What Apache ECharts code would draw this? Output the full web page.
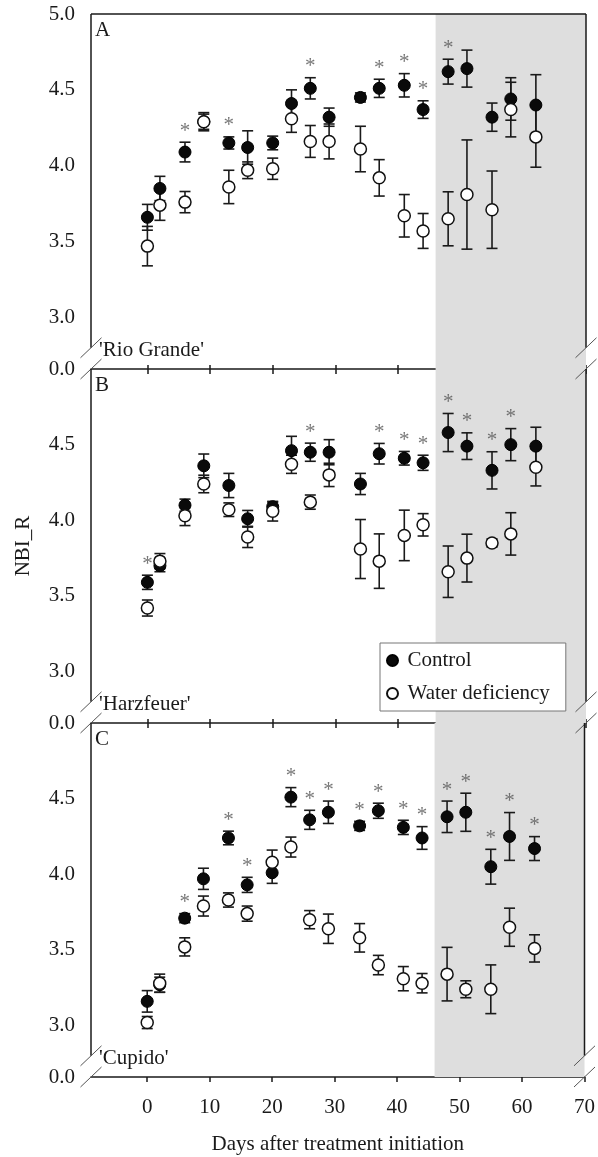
<!DOCTYPE html>
<html><head><meta charset="utf-8">
<script src="https://cdn.jsdelivr.net/npm/echarts@6/dist/echarts.min.js"></script>
<style>html,body{margin:0;padding:0;background:#fff}#c{width:598px;height:1157px}</style>
</head><body><div id="c"></div>
<script>
// ---- data ----
const days = [0, 2, 6, 9, 13, 16, 20, 23, 26, 29, 34, 37, 41, 44, 48, 51, 55, 58, 62];
const xTicks = [0, 10, 20, 30, 40, 50, 60, 70];
const yTicksTop = [3.0, 3.5, 4.0, 4.5, 5.0];
const yTicksLower = [3.0, 3.5, 4.0, 4.5];
const panelLetters = ['A', 'B', 'C'];
const cultivars = ["'Rio Grande'", "'Harzfeuer'", "'Cupido'"];
const deficitStart = 46;

const ctrlA = [3.66, 3.85, 4.09, 4.29, 4.15, 4.12, 4.15, 4.41, 4.51, 4.32, 4.45, 4.51, 4.53, 4.37, 4.62, 4.64, 4.32, 4.44, 4.40];
const ctrlErrA = [0.085, 0.08, 0.065, 0.05, 0.04, 0.11, 0.045, 0.09, 0.07, 0.06, 0.03, 0.06, 0.077, 0.058, 0.082, 0.122, 0.093, 0.14, 0.2];
const waterA = [3.47, 3.74, 3.76, 4.29, 3.86, 3.97, 3.98, 4.31, 4.16, 4.16, 4.11, 3.92, 3.67, 3.57, 3.65, 3.81, 3.71, 4.37, 4.19];
const waterErrA = [0.13, 0.1, 0.07, 0.06, 0.11, 0.055, 0.07, 0.09, 0.105, 0.115, 0.15, 0.12, 0.14, 0.115, 0.178, 0.36, 0.255, 0.18, 0.2];
const sigA = [6, 13, 26, 37, 41, 44, 48];

const ctrlB = [3.59, 3.70, 4.10, 4.36, 4.23, 4.01, 4.09, 4.46, 4.45, 4.45, 4.24, 4.44, 4.41, 4.38, 4.58, 4.49, 4.33, 4.50, 4.49];
const ctrlErrB = [0.047, 0.04, 0.04, 0.078, 0.08, 0.055, 0.03, 0.095, 0.06, 0.083, 0.07, 0.068, 0.045, 0.05, 0.126, 0.088, 0.123, 0.106, 0.125];
const waterB = [3.42, 3.73, 4.03, 4.24, 4.07, 3.89, 4.06, 4.37, 4.12, 4.30, 3.81, 3.73, 3.90, 3.97, 3.66, 3.75, 3.85, 3.91, 4.35];
const waterErrB = [0.053, 0.05, 0.065, 0.058, 0.045, 0.07, 0.065, 0.06, 0.047, 0.077, 0.195, 0.18, 0.167, 0.074, 0.17, 0.158, 0.027, 0.14, 0.123];
const sigB = [0, 26, 37, 41, 44, 48, 51, 55, 58];

const ctrlC = [3.16, 3.27, 3.71, 3.97, 4.24, 3.93, 4.01, 4.51, 4.36, 4.41, 4.32, 4.42, 4.31, 4.24, 4.38, 4.41, 4.05, 4.25, 4.17];
const ctrlErrC = [0.071, 0.05, 0.03, 0.07, 0.045, 0.05, 0.07, 0.063, 0.063, 0.074, 0.03, 0.05, 0.047, 0.075, 0.104, 0.126, 0.115, 0.158, 0.079];
const waterC = [3.02, 3.28, 3.52, 3.79, 3.83, 3.74, 4.08, 4.18, 3.70, 3.64, 3.58, 3.40, 3.31, 3.28, 3.34, 3.24, 3.24, 3.65, 3.51];
const waterErrC = [0.04, 0.06, 0.06, 0.066, 0.047, 0.05, 0.08, 0.066, 0.06, 0.097, 0.094, 0.064, 0.08, 0.064, 0.177, 0.056, 0.161, 0.126, 0.09];
const sigC = [6, 13, 16, 23, 26, 29, 34, 37, 41, 44, 48, 51, 55, 58, 62];

const panels = [
  {ctrl: ctrlA, ctrlErr: ctrlErrA, water: waterA, waterErr: waterErrA, sig: sigA},
  {ctrl: ctrlB, ctrlErr: ctrlErrB, water: waterB, waterErr: waterErrB, sig: sigB},
  {ctrl: ctrlC, ctrlErr: ctrlErrC, water: waterC, waterErr: waterErrC, sig: sigC}
];

// ---- layout / style ----
const FONT = 'Liberation Serif';
const INK = '#1a1a1a';
const X_MIN = -9, X_MAX = 70;
const Y_MIN = 2.66, Y_MAX = 5.0, BREAK_AT = 2.8;
const tops = [14, 369, 723];
const heights = [355, 354, 354];

const chart = echarts.init(document.getElementById('c'), null, {renderer: 'canvas'});

const grids = [], xAxes = [], yAxes = [], series = [];

function errRender(params, api) {
  const x = api.value(0);
  const lo = api.coord([x, api.value(1)]);
  const hi = api.coord([x, api.value(2)]);
  const cap = 5.5;
  const st = {stroke: INK, lineWidth: 1.6};
  return {type: 'group', children: [
    {type: 'line', shape: {x1: lo[0], y1: lo[1], x2: hi[0], y2: hi[1]}, style: st},
    {type: 'line', shape: {x1: hi[0] - cap, y1: hi[1], x2: hi[0] + cap, y2: hi[1]}, style: st},
    {type: 'line', shape: {x1: lo[0] - cap, y1: lo[1], x2: lo[0] + cap, y2: lo[1]}, style: st}
  ]};
}

panels.forEach((P, p) => {
  grids.push({left: 91, right: 12, top: tops[p], height: heights[p]});
  const last = p === 2;
  xAxes.push({
    gridIndex: p, type: 'value', min: X_MIN, max: X_MAX,
    axisLine: {show: true, lineStyle: {color: INK, width: 1.5}},
    axisTick: {show: true, customValues: xTicks, length: 5, inside: false, lineStyle: {color: INK, width: 1.5}},
    axisLabel: {show: last, customValues: xTicks, fontSize: 21, fontFamily: FONT, color: INK, margin: 20},
    splitLine: {show: false},
    name: last ? 'Days after treatment initiation' : '',
    nameLocation: 'middle', nameGap: 57,
    nameTextStyle: {fontSize: 21, fontFamily: FONT, color: INK}
  });
  yAxes.push({
    gridIndex: p, type: 'value', min: Y_MIN, max: Y_MAX,
    axisLine: {show: false}, axisTick: {show: false}, splitLine: {show: false},
    axisLabel: {
      customValues: [Y_MIN].concat(p === 0 ? yTicksTop : yTicksLower),
      fontSize: 21, fontFamily: FONT, color: INK, margin: 16,
      formatter: v => (v < BREAK_AT ? '0.0' : v.toFixed(1))
    },
    name: p === 1 ? 'NBI_R' : '', nameLocation: 'middle', nameGap: 57, nameRotate: 90,
    nameTextStyle: {fontSize: 21, fontFamily: FONT, color: INK}
  });
  // shaded water-deficit period
  series.push({
    type: 'line', xAxisIndex: p, yAxisIndex: p, data: [], z: -1, silent: true,
    markArea: {silent: true, itemStyle: {color: '#dedede'}, data: [[{xAxis: deficitStart}, {xAxis: X_MAX}]]}
  });
  series.push({
    type: 'custom', xAxisIndex: p, yAxisIndex: p, z: 3, silent: true, renderItem: errRender,
    data: days.map((d, i) => [d, P.ctrl[i] - P.ctrlErr[i], P.ctrl[i] + P.ctrlErr[i]])
  });
  series.push({
    type: 'custom', xAxisIndex: p, yAxisIndex: p, z: 3, silent: true, renderItem: errRender,
    data: days.map((d, i) => [d, P.water[i] - P.waterErr[i], P.water[i] + P.waterErr[i]])
  });
  series.push({
    name: 'Control', type: 'scatter', xAxisIndex: p, yAxisIndex: p, z: 4,
    symbol: 'circle', symbolSize: 12,
    itemStyle: {color: '#0a0a0a', borderColor: '#000', borderWidth: 1, opacity: 1},
    data: days.map((d, i) => [d, P.ctrl[i]])
  });
  series.push({
    name: 'Water deficiency', type: 'scatter', xAxisIndex: p, yAxisIndex: p, z: 5,
    symbol: 'circle', symbolSize: 12,
    itemStyle: {color: '#ffffff', borderColor: '#111', borderWidth: 1.5, opacity: 1},
    data: days.map((d, i) => [d, P.water[i]])
  });
  series.push({
    type: 'scatter', xAxisIndex: p, yAxisIndex: p, z: 6, silent: true,
    symbol: 'circle', symbolSize: 1, itemStyle: {color: 'rgba(0,0,0,0)'},
    label: {show: true, formatter: '*', position: 'inside', offset: [0, -11],
      fontSize: 21, fontFamily: FONT, color: '#555'},
    data: P.sig.map(d => { const i = days.indexOf(d); return [d, P.ctrl[i] + P.ctrlErr[i]]; })
  });
});

// inner tick halves for panels A, B (ticks cross the shared border)
[0, 1].forEach(p => {
  xAxes.push({
    gridIndex: p, type: 'value', min: X_MIN, max: X_MAX, position: 'bottom',
    axisLine: {show: false}, axisLabel: {show: false}, splitLine: {show: false},
    axisTick: {show: true, customValues: xTicks, length: 4, inside: true, lineStyle: {color: INK, width: 1.5}}
  });
});

chart.setOption({
  animation: false,
  backgroundColor: '#fff',
  grid: grids, xAxis: xAxes, yAxis: yAxes, series: series,
  legend: {
    data: ['Control', 'Water deficiency'], orient: 'vertical',
    left: 380, top: 643, padding: [7, 16, 7, 6], itemGap: 12,
    itemWidth: 20, itemHeight: 11, selectedMode: false,
    backgroundColor: '#fff', borderColor: '#777', borderWidth: 1,
    textStyle: {fontSize: 21, fontFamily: FONT, color: INK}
  }
});

// frame pieces, axis-break marks and panel annotations
const g = [];
const lineSt = {stroke: INK, lineWidth: 1.5};
const slashSt = {stroke: '#555', lineWidth: 1};
function slash(pt) {
  return {type: 'line', z: 100, shape: {x1: pt[0] - 10.5, y1: pt[1] + 10, x2: pt[0] + 10.5, y2: pt[1] - 10}, style: slashSt};
}
panels.forEach((P, p) => {
  const cv = v => chart.convertToPixel({gridIndex: p}, v);
  const L5 = cv([X_MIN, Y_MAX]), LB = cv([X_MIN, BREAK_AT]), LM = cv([X_MIN, Y_MIN]);
  const R5 = cv([X_MAX, Y_MAX]), RB = cv([X_MAX, BREAK_AT]), RM = cv([X_MAX, Y_MIN]);
  g.push({type: 'line', z: 100, shape: {x1: L5[0], y1: L5[1], x2: LB[0], y2: LB[1]}, style: lineSt});
  g.push({type: 'line', z: 100, shape: {x1: R5[0], y1: R5[1], x2: RB[0], y2: RB[1]}, style: lineSt});
  if (p === 0) g.push({type: 'line', z: 100, shape: {x1: L5[0], y1: L5[1], x2: R5[0], y2: R5[1]}, style: lineSt});
  g.push(slash(LB), slash(LM), slash(RB), slash(RM));
  g.push({type: 'text', z: 100, x: L5[0] + 4, y: L5[1] + 16,
    style: {text: panelLetters[p], font: '21px "' + FONT + '"', fill: INK, verticalAlign: 'middle'}});
  g.push({type: 'text', z: 100, x: L5[0] + 8, y: LM[1] - 19,
    style: {text: cultivars[p], font: '21px "' + FONT + '"', fill: INK, verticalAlign: 'middle'}});
});
chart.setOption({graphic: g});
</script>
</body></html>
